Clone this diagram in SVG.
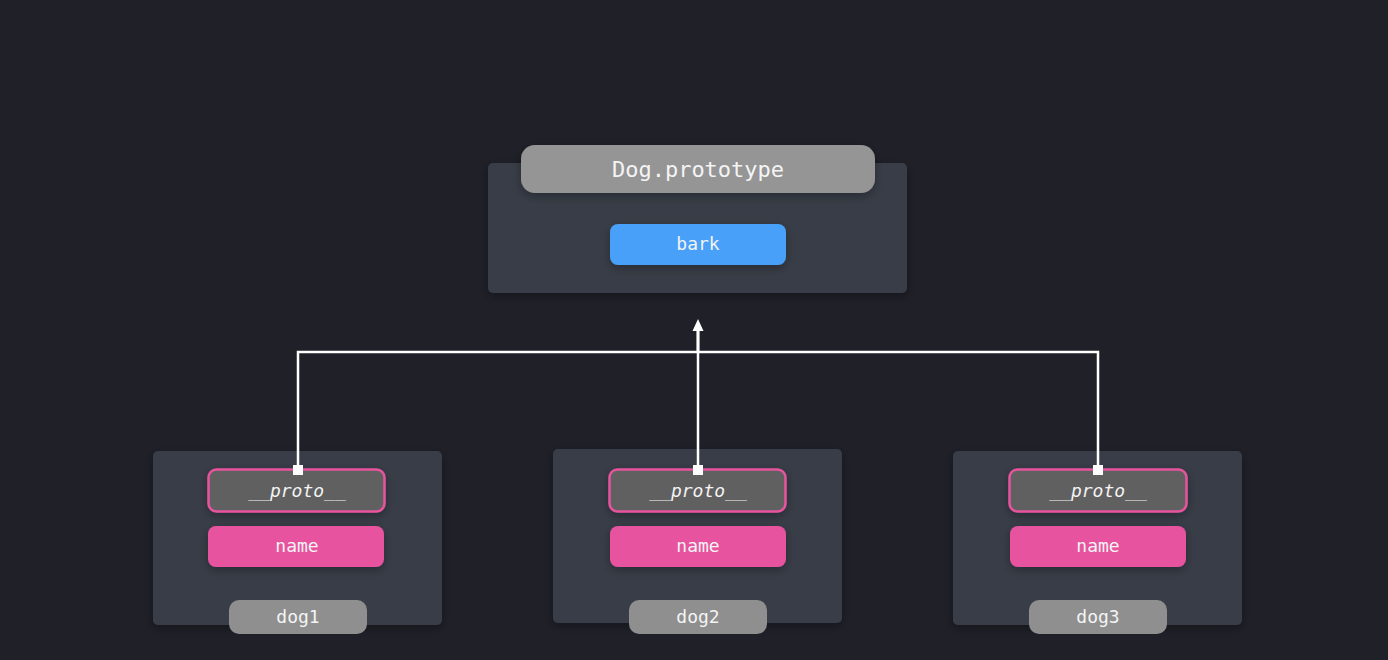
<svg xmlns="http://www.w3.org/2000/svg" width="1388" height="660" viewBox="0 0 1388 660">
<defs>
<style>
.panel{fill:#393d47}
.title{fill:#959595}
.bark{fill:#48a0f8}
.proto{fill:#616161;stroke:#e8539e;stroke-width:2.5}
.name{fill:#e8529f}
.lab{fill:#8f8f8f}
text{font-family:"DejaVu Sans Mono","Liberation Mono",monospace;fill:#f4f4f4;text-anchor:middle;font-size:18px}
.t{font-size:22px}
.it{font-style:italic}
.conn{fill:none;stroke:#ffffff;stroke-width:2.5}
</style>
<filter id="sh" x="-20%" y="-30%" width="140%" height="160%">
<feDropShadow dx="0" dy="3" stdDeviation="5" flood-color="#000" flood-opacity="0.3"/>
</filter>
<marker id="sq" viewBox="0 0 10 10" refX="5" refY="5" markerWidth="10" markerHeight="10" markerUnits="userSpaceOnUse">
<rect x="0" y="0" width="10" height="10" fill="#fff"/>
</marker>
<marker id="ar" viewBox="0 0 12 12" refX="1" refY="6" markerWidth="12" markerHeight="12" markerUnits="userSpaceOnUse" orient="auto">
<path d="M0,0.5 L12,6 L0,11.5 z" fill="#fff"/>
</marker>
</defs>
<rect width="1388" height="660" fill="#1f2028"/>

<g id="dog-prototype">
<rect class="panel" x="488" y="163" width="419" height="130" rx="5" filter="url(#sh)"/>
<rect class="title" x="521" y="145" width="354" height="48" rx="14" filter="url(#sh)"/>
<text class="t" x="698" y="177">Dog.prototype</text>
<rect class="bark" x="610" y="224" width="176" height="41" rx="8" filter="url(#sh)"/>
<text x="698" y="250">bark</text>
</g>

<g id="dog1">
<rect class="panel" x="153" y="451" width="289" height="174" rx="5" filter="url(#sh)"/>
<rect class="proto" x="208.5" y="469.5" width="176" height="42" rx="8" filter="url(#sh)"/>
<text class="it" x="297" y="497">__proto__</text>
<rect class="name" x="208" y="526" width="176" height="41" rx="8" filter="url(#sh)"/>
<text x="297" y="552">name</text>
<rect class="lab" x="229" y="600" width="138" height="34" rx="10"/>
<text x="298" y="623">dog1</text>
</g>

<g id="dog2">
<rect class="panel" x="553" y="449" width="289" height="174" rx="5" filter="url(#sh)"/>
<rect class="proto" x="609.5" y="469.5" width="176" height="42" rx="8" filter="url(#sh)"/>
<text class="it" x="698" y="497">__proto__</text>
<rect class="name" x="610" y="526" width="176" height="41" rx="8" filter="url(#sh)"/>
<text x="698" y="552">name</text>
<rect class="lab" x="629" y="600" width="138" height="34" rx="10"/>
<text x="698" y="623">dog2</text>
</g>

<g id="dog3">
<rect class="panel" x="953" y="451" width="289" height="174" rx="5" filter="url(#sh)"/>
<rect class="proto" x="1009.5" y="469.5" width="177" height="42" rx="8" filter="url(#sh)"/>
<text class="it" x="1098" y="497">__proto__</text>
<rect class="name" x="1010" y="526" width="176" height="41" rx="8" filter="url(#sh)"/>
<text x="1098" y="552">name</text>
<rect class="lab" x="1029" y="600" width="138" height="34" rx="10"/>
<text x="1098" y="623">dog3</text>
</g>

<g id="connectors">
<path class="conn" d="M298,470 V352 H698 V330"/>
<path class="conn" d="M1098,470 V352 H698 V330"/>
<path class="conn" d="M698,470 V330" marker-end="url(#ar)"/>
<rect x="293" y="465" width="10" height="10" fill="#fff"/>
<rect x="693" y="465" width="10" height="10" fill="#fff"/>
<rect x="1093" y="465" width="10" height="10" fill="#fff"/>
</g>
</svg>
